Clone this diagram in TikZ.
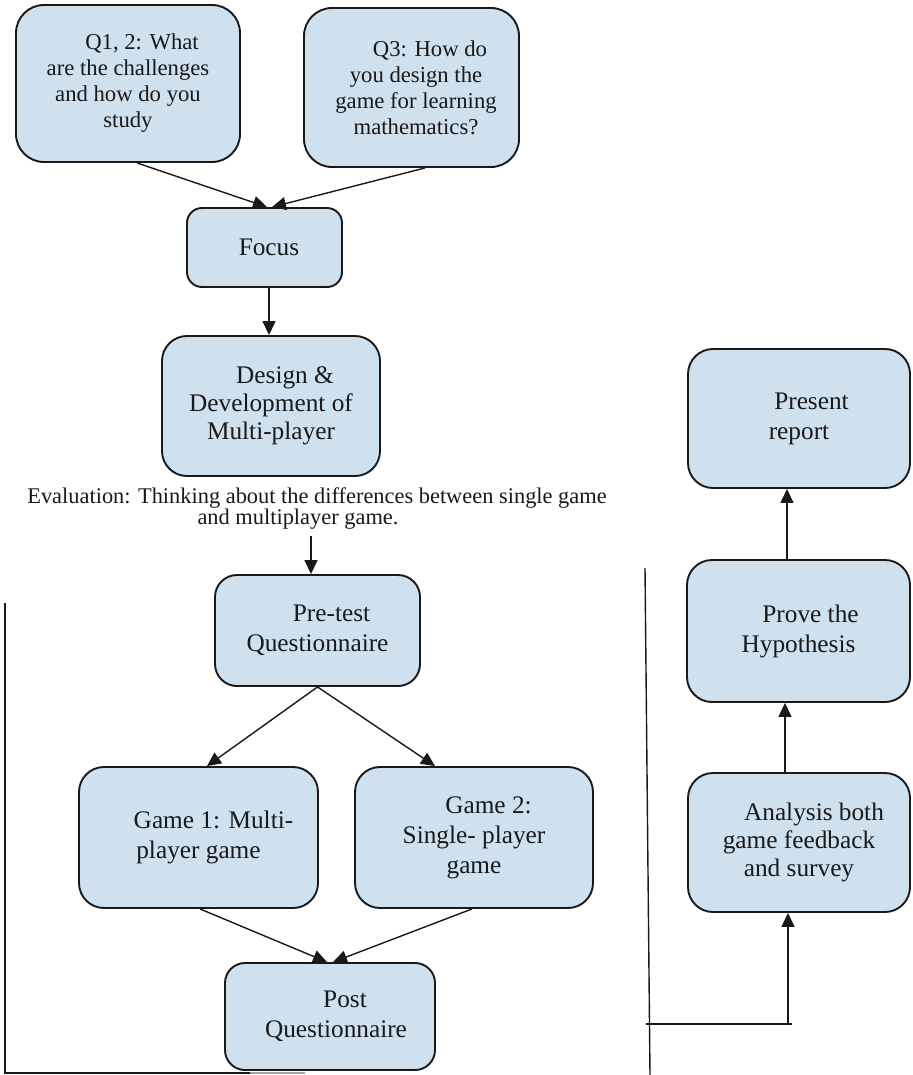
\documentclass[tikz,border=0pt]{standalone}
\usepackage{fontspec}
\setmainfont{Liberation Serif}
\usetikzlibrary{arrows.meta}
\definecolor{boxfill}{HTML}{CFE0EF}
\tikzset{
  box/.style={draw=black!90, line width=1.9pt, fill=boxfill, rounded corners=22pt,
    inner sep=0pt, align=center, text=black!90},
  arr/.style={line width=1.4pt, draw=black!90, -{Triangle[length=14pt,width=13pt]}},
  plain/.style={line width=1.4pt, draw=black!90},
  fq/.style={font=\fontsize{22.7}{26}\selectfont},
  fm/.style={font=\fontsize{25.3}{28}\selectfont},
  fb/.style={font=\fontsize{25.3}{30}\selectfont},
}
\begin{document}
\begin{tikzpicture}[x=1pt,y=-1pt]
\useasboundingbox (0,0) rectangle (912,1075);
\fill[white] (0,0) rectangle (912,1075);
% upper part
\node[box,fq,rounded corners=28pt,minimum width=224pt,minimum height=157pt] (q1) at (128,83.5)
  {\hspace*{28pt}Q1, 2: What\\are the challenges\\and how do you\\study};
\node[box,fq,rounded corners=28pt,minimum width=215pt,minimum height=159pt] (q3) at (411.5,87.5)
  {\hspace*{37pt}Q3: How do\\\hspace*{9pt}you design the\\\hspace*{9pt}game for learning\\\hspace*{9pt}mathematics?};
\node[box,fm,rounded corners=15pt,minimum width=155pt,minimum height=79pt] (focus) at (264.5,247.5)
  {\hspace*{9pt}Focus};
\node[box,fm,rounded corners=25pt,minimum width=218pt,minimum height=140pt] (design) at (271,406)
  {\hspace*{28pt}Design \&\\Development of\\Multi-player};
\node[font=\fontsize{22.4}{21}\selectfont, align=center, inner sep=0pt, text=black!90] (eval) at (317,509)
  {Evaluation: Thinking about the differences between single game\\and multiplayer game.\hspace*{38pt}};
\node[box,fb,minimum width=205pt,minimum height=111pt] (pre) at (317.5,630.5)
  {\hspace*{28pt}Pre-test\\Questionnaire};
\node[box,fb,rounded corners=25pt,minimum width=239pt,minimum height=141pt] (g1) at (198.5,837.5)
  {\hspace*{30pt}Game 1: Multi-\\player game};
\node[box,fb,rounded corners=25pt,minimum width=238pt,minimum height=141pt] (g2) at (474,837.5)
  {\hspace*{29pt}Game 2:\\Single- player\\game};
\node[box,fb,rounded corners=20pt,minimum width=210pt,minimum height=107pt] (post) at (330,1016.5)
  {\hspace*{30pt}Post\\\hspace*{12pt}Questionnaire};
% right part
\node[box,fb,rounded corners=25pt,minimum width=222pt,minimum height=139pt] (present) at (799,418.5)
  {\hspace*{25pt}Present\\report};
\node[box,fb,rounded corners=25pt,minimum width=223pt,minimum height=142pt] (prove) at (798.5,631)
  {\hspace*{24pt}Prove the\\Hypothesis};
\node[box,fm,rounded corners=25pt,minimum width=222pt,minimum height=139pt] (ana) at (799,842.5)
  {\hspace*{30pt}Analysis both\\game feedback\\and survey};
% connectors
\draw[arr] ([xshift=9pt]q1.south) -- ([xshift=2.5pt]focus.north);
\draw[arr] ([xshift=13.5pt]q3.south) -- ([xshift=7.5pt]focus.north);
\draw[arr] ([xshift=4.5pt]focus.south) -- ([xshift=-2pt]design.north);
\draw[arr] ([xshift=-6pt,yshift=-6pt]eval.south) -- ([xshift=-6.5pt]pre.north);
\draw[arr] (pre.south) -- ([xshift=8.5pt]g1.north);
\draw[arr] (pre.south) -- ([xshift=-39pt]g2.north);
\draw[arr] ([xshift=1.5pt]g1.south) -- ([xshift=-3pt]post.north);
\draw[arr] ([xshift=-2pt]g2.south) -- ([xshift=3pt]post.north);
\draw[arr] ([xshift=-14pt]ana.north) -- ([xshift=-13.5pt]prove.south);
\draw[arr] ([xshift=-11.5pt]prove.north) -- ([xshift=-12pt]present.south);
% frame lines
\coordinate (ltop) at (5,603);
\coordinate (lbot) at (5,1073);
\coordinate (lend) at (250,1073);
\coordinate (lfade) at (305,1073);
\draw[plain] (ltop) -- (lbot) -- (lend);
\draw[line width=1.4pt, black!35] (lend) -- (lfade);
\coordinate (rtop) at (645,568);
\coordinate (rbot) at (650,1075);
\draw[plain] (rtop) -- (rbot);
\coordinate (hl) at (646,1024);
\coordinate (hr) at (792,1024);
\coordinate (c1) at (788,1024);
\draw[plain] (hl) -- (hr);
\draw[arr] (c1) -- ([xshift=-11pt]ana.south);
\end{tikzpicture}
\end{document}
